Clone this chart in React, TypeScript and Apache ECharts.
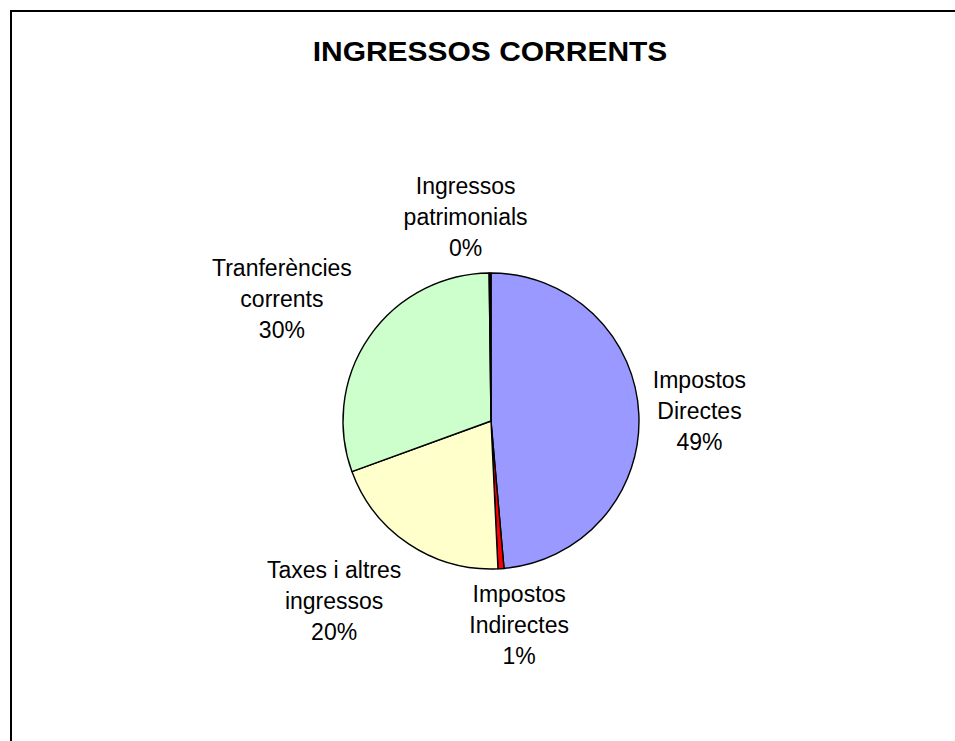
import React, { useEffect, useRef } from 'react';
import * as echarts from 'echarts';

const chartTitle = 'INGRESSOS CORRENTS';
const categories = [
  'Impostos\nDirectes',
  'Impostos\nIndirectes',
  'Taxes i altres\ningressos',
  'Tranferències\ncorrents',
  'Ingressos\npatrimonials',
];
const values = [48.6, 0.65, 20.2, 30.35, 0.2];
const sliceColors = ['#9999FF', '#FF0000', '#FFFFCC', '#CCFFCC', '#000000'];
// small per-label adjustments (label placement only)
const labelNudge = [
  [2, -1],
  [14, -2],
  [-31, 8],
  [-20, -5],
  [-24, 2],
];

const CENTER = [491, 421];
const RADIUS = 148;
const GAP = 12;

export default function App() {
  const ref = useRef<HTMLDivElement>(null);
  useEffect(() => {
    if (!ref.current) return;
    const chart = echarts.init(ref.current, undefined, { renderer: 'svg' });
    const total = values.reduce((a, b) => a + b, 0);
    const cum: number[] = [];
    let acc = 0;
    values.forEach((v) => {
      cum.push(acc + v / 2);
      acc += v;
    });
    const option: any = {
      animation: false,
      backgroundColor: '#ffffff',
      graphic: [
        {
          type: 'line',
          shape: { x1: 10, y1: 11, x2: 955, y2: 11 },
          style: { stroke: '#000', lineWidth: 2 },
          silent: true,
        },
        {
          type: 'line',
          shape: { x1: 11, y1: 10, x2: 11, y2: 741 },
          style: { stroke: '#000', lineWidth: 2 },
          silent: true,
        },
        {
          type: 'text',
          x: 490,
          y: 52,
          scaleX: 1.11,
          style: {
            text: chartTitle,
            align: 'center',
            verticalAlign: 'middle',
            fontFamily: 'Liberation Sans, Arial, sans-serif',
            fontWeight: 'bold',
            fontSize: 27,
            fill: '#000',
          },
        },
      ],
      series: [
        {
          type: 'pie',
          center: CENTER,
          radius: RADIUS,
          startAngle: 90,
          clockwise: true,
          avoidLabelOverlap: false,
          minAngle: 0,
          emphasis: { disabled: true },
          itemStyle: { borderColor: '#000', borderWidth: 1.4 },
          label: {
            show: true,
            position: 'outside',
            formatter: (p: any) => `${p.name}\n${Math.round(p.percent)}%`,
            fontFamily: 'Liberation Sans, Arial, sans-serif',
            fontSize: 23,
            lineHeight: 31,
            color: '#000',
          },
          labelLine: { show: true, length: 10, length2: 0, lineStyle: { width: 0, opacity: 0 } },
          labelLayout: (params: any) => {
            const i = params.dataIndex;
            let p1x: number, p1y: number, dx: number, dy: number;
            const pts = params.labelLinePoints;
            if (pts && pts.length >= 2 && (pts[1][0] !== pts[0][0] || pts[1][1] !== pts[0][1])) {
              p1x = pts[0][0];
              p1y = pts[0][1];
              const lx = pts[1][0] - pts[0][0];
              const ly = pts[1][1] - pts[0][1];
              const len = Math.sqrt(lx * lx + ly * ly);
              dx = lx / len;
              dy = ly / len;
            } else {
              const ang = (cum[i] / total) * Math.PI * 2;
              dx = Math.sin(ang);
              dy = -Math.cos(ang);
              p1x = CENTER[0] + dx * RADIUS;
              p1y = CENTER[1] + dy * RADIUS;
            }
            const w = params.labelRect.width;
            const h = params.labelRect.height;
            return {
              x: p1x + dx * GAP + (dx * w) / 2 + labelNudge[i][0],
              y: p1y + dy * GAP + (dy * h) / 2 + labelNudge[i][1],
              align: 'center',
              verticalAlign: 'middle',
            };
          },
          data: categories.map((name, i) => ({
            name,
            value: values[i],
            itemStyle: { color: sliceColors[i] },
          })),
        },
      ],
    };
    chart.setOption(option);
    return () => chart.dispose();
  }, []);
  return (
    <div
      ref={ref}
      style={{ position: 'absolute', left: 0, top: 0, width: 955, height: 741, overflow: 'hidden' }}
    />
  );
}
